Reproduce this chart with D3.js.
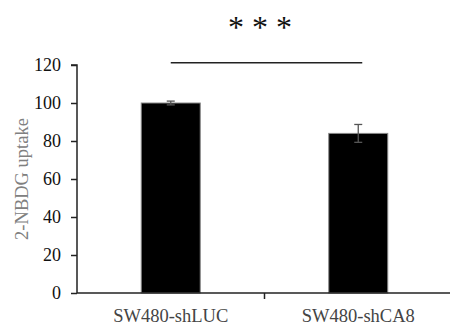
<!DOCTYPE html>
<html>
<head>
<meta charset="utf-8">
<script src="https://cdn.jsdelivr.net/npm/d3@7"></script>
<style>
body { margin: 0; background: #fff; }
text { font-family: "Liberation Serif", "Times New Roman", serif; }
</style>
</head>
<body>
<svg id="chart" width="450" height="329"></svg>
<script>
var categories = ["SW480-shLUC", "SW480-shCA8"];
var values = [100, 84];
var errors = [1, 4.7];
var yTicks = [0, 20, 40, 60, 80, 100, 120];
var yLabel = "2-NBDG uptake";
var sigLabel = "* * *";

var svg = d3.select("#chart");
var mLeft = 77, mRight = 452, mTop = 65, mBottom = 293;

var x = d3.scaleBand().domain(categories).range([mLeft, mRight]);
var y = d3.scaleLinear().domain([0, 120]).range([mBottom, mTop]);
var barW = 59;

// bars
svg.selectAll("rect.bar").data(values).enter().append("rect")
    .attr("class", "bar")
    .attr("x", function(d, i){ return x(categories[i]) + x.bandwidth()/2 - barW/2; })
    .attr("y", function(d){ return y(d); })
    .attr("width", barW)
    .attr("height", function(d){ return y(0) - y(d); })
    .attr("fill", "#000")
    .attr("stroke", "#888")
    .attr("stroke-width", 1);

// error bars
var eb = svg.selectAll("g.err").data(values).enter().append("g")
    .attr("class", "err")
    .attr("stroke", "#555")
    .attr("stroke-width", 1.3);
eb.append("line")
    .attr("x1", function(d, i){ return x(categories[i]) + x.bandwidth()/2; })
    .attr("x2", function(d, i){ return x(categories[i]) + x.bandwidth()/2; })
    .attr("y1", function(d, i){ return y(d + errors[i]); })
    .attr("y2", function(d, i){ return y(d - errors[i]); });
[1, -1].forEach(function(s){
    eb.append("line")
        .attr("x1", function(d, i){ return x(categories[i]) + x.bandwidth()/2 - 4; })
        .attr("x2", function(d, i){ return x(categories[i]) + x.bandwidth()/2 + 4; })
        .attr("y1", function(d, i){ return y(d + s*errors[i]); })
        .attr("y2", function(d, i){ return y(d + s*errors[i]); });
});

// y axis
var yAxis = svg.append("g")
    .attr("transform", "translate(" + mLeft + ",0)")
    .call(d3.axisLeft(y).tickValues(yTicks).tickSize(6).tickPadding(10));
yAxis.select(".domain").attr("d", "M-6," + y(120) + "H0V" + y(0)).attr("stroke", "#222").attr("stroke-width", 1.5);
yAxis.selectAll(".tick line").attr("stroke", "#222").attr("stroke-width", 1.5);
yAxis.selectAll("text").attr("font-size", 18).attr("fill", "#111")
    .style("font-family", "Liberation Serif");

// x axis
var xAxis = svg.append("g")
    .attr("transform", "translate(0," + mBottom + ")");
xAxis.append("line").attr("x1", mLeft).attr("x2", 450).attr("y1", 0).attr("y2", 0)
    .attr("stroke", "#222").attr("stroke-width", 1.5);
xAxis.append("line")
    .attr("x1", x(categories[1])).attr("x2", x(categories[1]))
    .attr("y1", 0).attr("y2", 6)
    .attr("stroke", "#222").attr("stroke-width", 1.5);
xAxis.selectAll("text").data(categories).enter().append("text")
    .attr("x", function(d){ return x(d) + x.bandwidth()/2; })
    .attr("y", 29)
    .attr("text-anchor", "middle")
    .attr("font-size", 18.5)
    .attr("fill", "#444")
    .text(function(d){ return d; });

// y label
svg.append("text")
    .attr("transform", "translate(28,179) rotate(-90)")
    .attr("text-anchor", "middle")
    .attr("font-size", 18.5)
    .attr("fill", "#808080")
    .text(yLabel);

// significance
var c0 = x(categories[0]) + x.bandwidth()/2, c1 = x(categories[1]) + x.bandwidth()/2;
svg.append("line")
    .attr("x1", c0).attr("x2", c1 + 4)
    .attr("y1", 62.7).attr("y2", 62.7)
    .attr("stroke", "#222").attr("stroke-width", 1.5);
svg.append("text")
    .attr("x", 260).attr("y", 38)
    .attr("text-anchor", "middle")
    .attr("font-size", 32)
    .attr("fill", "#111")
    .text(sigLabel);
</script>
</body>
</html>
